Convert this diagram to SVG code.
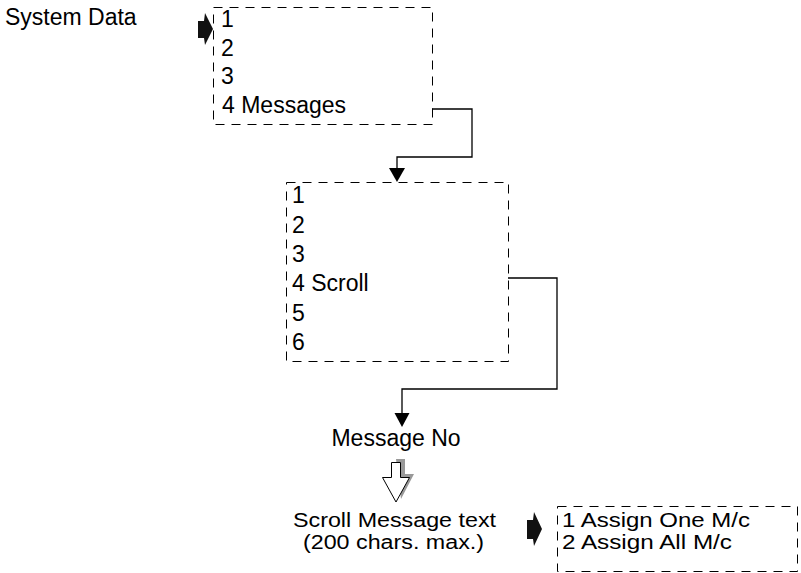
<svg xmlns="http://www.w3.org/2000/svg" width="801" height="573" viewBox="0 0 801 573">
<style>
text{font-family:"Liberation Sans",Arial,sans-serif;font-size:23px;fill:#000}
.sm{font-size:19.5px}
.box{fill:none;stroke:#000;stroke-width:1;stroke-dasharray:9 7}
.ln{fill:none;stroke:#000;stroke-width:1.3}
.ah{fill:#000}
.blk{fill:#111}
</style>
<g id="label-system-data"><text x="5" y="25">System Data</text></g>
<g id="box1">
<polygon class="blk" points="198,21 204,21 205,13 213,29 205,45 204,38 198,38"/>
<rect class="box" x="213.5" y="7.5" width="219" height="117"/>
<text x="221" y="27">1</text>
<text x="221" y="56">2</text>
<text x="221" y="84">3</text>
<text x="222" y="113">4 Messages</text>
</g>
<g id="box2">
<rect class="box" x="286.5" y="182.5" width="222" height="179"/>
<text x="292" y="203">1</text>
<text x="292" y="233">2</text>
<text x="292" y="262">3</text>
<text x="292" y="291">4 Scroll</text>
<text x="292" y="321">5</text>
<text x="292" y="350">6</text>
</g>
<g id="message-no">
<text x="396" y="446" text-anchor="middle">Message No</text>
</g>
<g id="hollow-arrow">
<polygon points="396,459 405,459 405,474 414,474 401,499" fill="#999"/>
<polygon points="391.5,462.5 400.5,462.5 400.5,477.5 409.5,477.5 396,502 382.5,477.5 391.5,477.5" fill="#fff" stroke="#000" stroke-width="1"/>
</g>
<g id="scroll-text">
<text class="sm" x="293" y="527" textLength="203" lengthAdjust="spacingAndGlyphs">Scroll Message text</text>
<text class="sm" x="303" y="549" textLength="181" lengthAdjust="spacingAndGlyphs">(200 chars. max.)</text>
</g>
<g id="box3">
<polygon class="blk" points="527,520 533,520 534,512 542,529 534,546 533,539 527,539"/>
<rect class="box" x="557.5" y="506.5" width="240" height="65"/>
<text class="sm" x="562" y="527" textLength="188" lengthAdjust="spacingAndGlyphs">1 Assign One M/c</text>
<text class="sm" x="562" y="549" textLength="170" lengthAdjust="spacingAndGlyphs">2 Assign All M/c</text>
</g>
<g id="connectors">
<path class="ln" d="M432,109 H472 V157 H397 V170"/>
<polygon class="ah" points="389,168 405,168 397,182"/>
<path class="ln" d="M508,278 H557 V389 H402 V415"/>
<polygon class="ah" points="394.5,413 409.5,413 402,427"/>
</g>
</svg>
